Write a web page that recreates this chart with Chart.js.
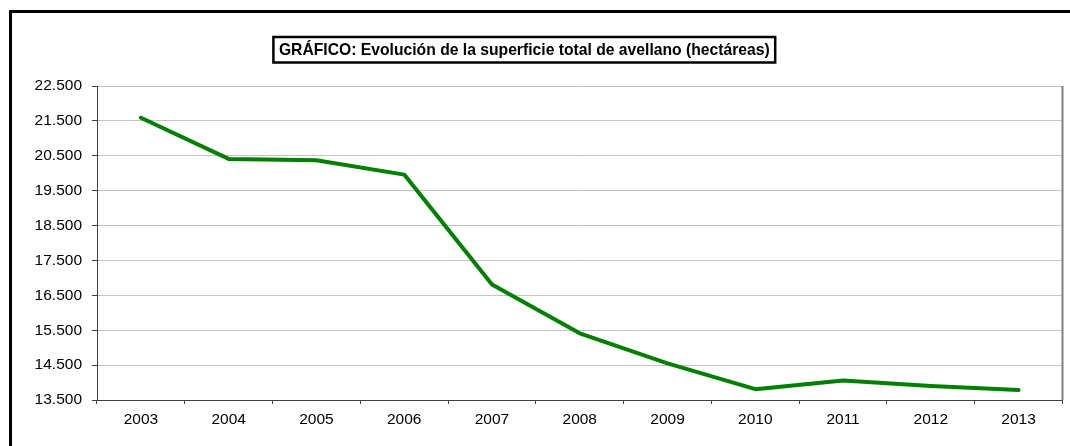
<!DOCTYPE html>
<html>
<head>
<meta charset="utf-8">
<script src="https://cdn.jsdelivr.net/npm/chart.js@4/dist/chart.umd.min.js"></script>
<style>
    body{margin:0;background:#fff;}
    #wrap{width:1070px;height:446px;position:relative;}
</style>
</head>
<body>
<div id="wrap"><canvas id="chart"></canvas></div>
<script>
let years = ['2003','2004','2005','2006','2007','2008','2009','2010','2011','2012','2013'];
let superficie = [21590, 20410, 20370, 19960, 16810, 15410, 14550, 13810, 14060, 13900, 13790];
let yMin = 13500;
let yMax = 22500;
let yStep = 1000;
let titulo = 'GRÁFICO: Evolución de la superficie total de avellano (hectáreas)';

const fontFamily = '"Liberation Sans", Arial, sans-serif';

function puntos(n){
    return n.toString().replace(/\B(?=(\d{3})+(?!\d))/g, '.');
}

// marco exterior, borde derecho del area y caja del titulo
const decor = {
    id: 'decor',
    beforeDraw(chart){
        let ctx = chart.ctx;
        ctx.save();
        ctx.fillStyle = '#000';
        ctx.fillRect(9, 10, 3, 446 - 10);
        ctx.fillRect(9, 10, 1070 - 9, 3);
        ctx.restore();
    },
    afterDraw(chart){
        let ctx = chart.ctx;
        let a = chart.chartArea;
        ctx.save();
        ctx.strokeStyle = '#808080';
        ctx.lineWidth = 2;
        ctx.beginPath();
        ctx.moveTo(a.right, a.top);
        ctx.lineTo(a.right, a.bottom);
        ctx.stroke();

        ctx.font = 'bold 15.7px ' + fontFamily;
        let w = ctx.measureText(titulo).width;
        let cx = 524.3, top = 37, h = 25.5;
        let boxW = w + 11;
        ctx.strokeStyle = '#000';
        ctx.lineWidth = 2.5;
        ctx.strokeRect(cx - boxW / 2, top, boxW, h);
        ctx.fillStyle = '#000';
        ctx.textAlign = 'center';
        ctx.textBaseline = 'middle';
        ctx.fillText(titulo, cx, top + h / 2 + 0.5);
        ctx.restore();
    }
};

new Chart(document.getElementById('chart'), {
    type: 'line',
    data: {
        labels: years,
        datasets: [{
            data: superficie,
            borderColor: '#008000',
            borderWidth: 4,
            pointRadius: 0,
            tension: 0,
            borderCapStyle: 'round',
            borderJoinStyle: 'round'
        }]
    },
    options: {
        responsive: true,
        maintainAspectRatio: false,
        animation: false,
        events: [],
        layout: {padding: {top: 86, right: 7.5, left: 0, bottom: 0}},
        plugins: {
            legend: {display: false},
            tooltip: {enabled: false},
            title: {display: false}
        },
        scales: {
            x: {
                offset: true,
                grid: {offset: true, drawOnChartArea: false, tickLength: 4, tickColor: '#404040'},
                border: {color: '#404040', width: 1},
                ticks: {color: '#000', padding: 6, maxRotation: 0, font: {family: fontFamily, size: 15.5}},
                afterFit(s){ s.height = 46; }
            },
            y: {
                min: yMin,
                max: yMax,
                grid: {color: '#c4c4c4', lineWidth: 1, tickLength: 5, tickColor: '#404040'},
                border: {color: '#404040', width: 1},
                ticks: {
                    stepSize: yStep,
                    color: '#000',
                    padding: 10,
                    font: {family: fontFamily, size: 15.5},
                    callback: v => puntos(v)
                },
                afterFit(s){ s.width = 97; }
            }
        }
    },
    plugins: [decor]
});
</script>
</body>
</html>
